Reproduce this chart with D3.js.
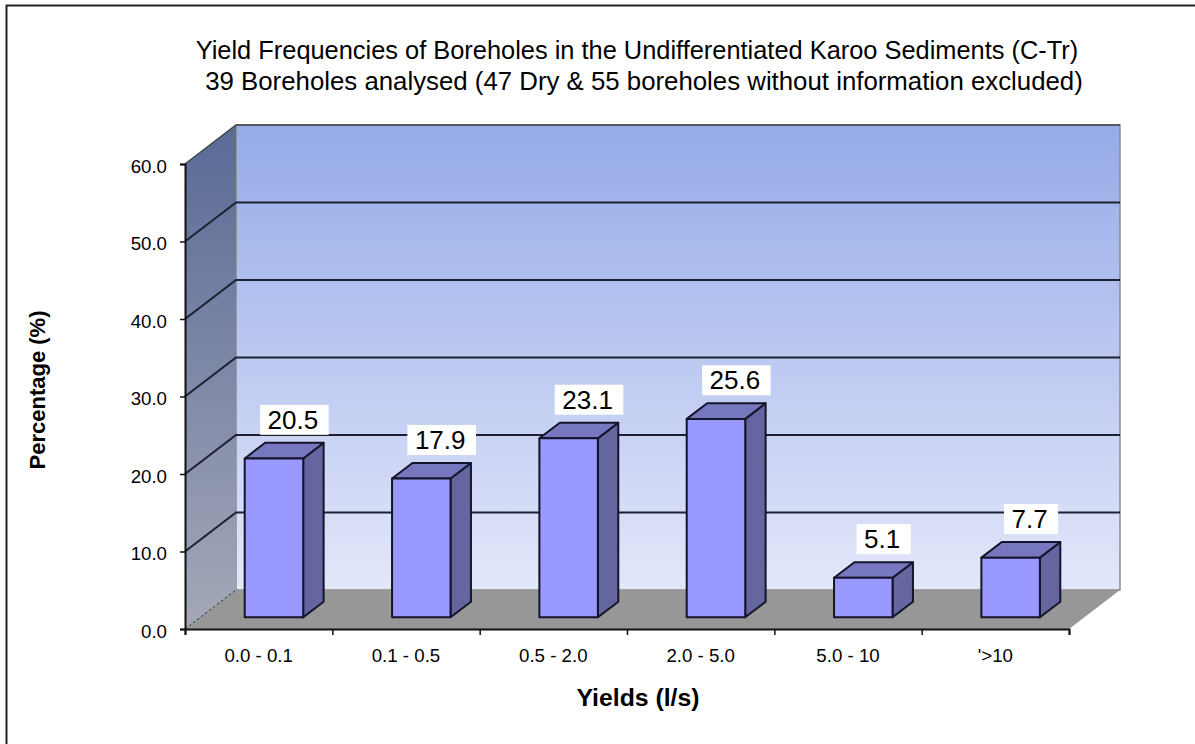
<!DOCTYPE html>
<html>
<head>
<meta charset="utf-8">
<script src="https://cdn.jsdelivr.net/npm/d3@7"></script>
<style>
    html, body { margin: 0; padding: 0; background: #fff; }
    text { font-family: "Liberation Sans", Arial, sans-serif; fill: #000; }
</style>
</head>
<body>
<div id="chart"></div>
<script>
const categories = ["0.0 - 0.1", "0.1 - 0.5", "0.5 - 2.0", "2.0 - 5.0", "5.0 - 10", "'>10"];
const percentages = [20.5, 17.9, 23.1, 25.6, 5.1, 7.7];
const yTicks = [0, 10, 20, 30, 40, 50, 60];
const titleLines = [
    "Yield Frequencies of Boreholes in the Undifferentiated Karoo Sediments (C-Tr)",
    "39 Boreholes analysed (47 Dry & 55 boreholes without information excluded)"
];

const width = 1195;
const height = 744;

const svg = d3.select("#chart")
    .append("svg")
    .attr("width", width)
    .attr("height", height)
    .style("display", "block");

const defs = svg.append("defs");

function addGradient(id, top, bottom) {
    const g = defs.append("linearGradient")
        .attr("id", id)
        .attr("x1", 0).attr("y1", 0)
        .attr("x2", 0).attr("y2", 1);
    g.append("stop").attr("offset", "0%").attr("stop-color", top);
    g.append("stop").attr("offset", "100%").attr("stop-color", bottom);
}
addGradient("wallFill", "#95aae8", "#e3e7fa");
addGradient("sideFill", "#5a6a96", "#a4a8b8");

// front plane of the chart
const x = d3.scaleBand().domain(categories).range([185, 1069]);
const y = d3.scaleLinear().domain([0, 60]).range([629, 164]);

// depth goes 0 (front) to 1 (back wall)
const depthX = d3.scaleLinear().domain([0, 1]).range([0, 51]);
const depthY = d3.scaleLinear().domain([0, 1]).range([0, -39]);

const pt = (px, py, d) => [px + depthX(d), py + depthY(d)];
const line = d3.line();

const x0 = x.range()[0];
const x1 = x.range()[1];
const y0 = y(0);
const yTop = y(60);

// outer frame, only top and left show in the scan
svg.append("path")
    .attr("d", line([[6.5, 744], [6.5, 5.5], [1195, 5.5]]))
    .attr("fill", "none")
    .attr("stroke", "#222")
    .attr("stroke-width", 2);

// walls and floor
svg.append("path")
    .attr("d", line([pt(x0, yTop, 1), pt(x1, yTop, 1), pt(x1, y0, 1), pt(x0, y0, 1)]) + "Z")
    .attr("fill", "url(#wallFill)")
    .attr("stroke", "#8a8a8a")
    .attr("stroke-width", 1.5);

svg.append("path")
    .attr("d", line([pt(x0, yTop, 0), pt(x0, yTop, 1), pt(x0, y0, 1), pt(x0, y0, 0)]) + "Z")
    .attr("fill", "url(#sideFill)");

svg.append("path")
    .attr("d", line([pt(x0, y0, 0), pt(x0, y0, 1), pt(x1, y0, 1), pt(x1, y0, 0)]) + "Z")
    .attr("fill", "#979797");

// gridlines along the side wall and back wall
svg.append("g")
    .selectAll("path")
    .data(yTicks.filter(d => d > 0 && d < 60))
    .join("path")
    .attr("d", d => line([pt(x0, y(d), 0), pt(x0, y(d), 1), pt(x1, y(d), 1)]))
    .attr("fill", "none")
    .attr("stroke", "#1c2030")
    .attr("stroke-width", 2);

// top and bottom edges of the side wall are dashed looking
svg.append("path")
    .attr("d", line([pt(x0, yTop, 0), pt(x0, yTop, 1), pt(x1, yTop, 1)]))
    .attr("fill", "none")
    .attr("stroke", "#444")
    .attr("stroke-width", 1.5);

svg.append("path")
    .attr("d", line([pt(x0, y0, 0), pt(x0, y0, 1)]))
    .attr("fill", "none")
    .attr("stroke", "#333")
    .attr("stroke-width", 1)
    .attr("stroke-dasharray", "3,2");

// bars
const barGap = 58.5;
const barDepth = [0.3, 0.7];

const bars = svg.append("g")
    .selectAll("g")
    .data(categories.map((c, i) => ({ c, v: percentages[i] })))
    .join("g")
    .attr("stroke", "#14142a")
    .attr("stroke-width", 2)
    .attr("stroke-linejoin", "round");

function barEdges(d) {
    const cx = x(d.c) + x.bandwidth() / 2;
    return { l: cx - barGap / 2, r: cx + barGap / 2, t: y(d.v), b: y(0) };
}

// side face
bars.append("path")
    .attr("fill", "#65659f")
    .attr("d", d => {
        const e = barEdges(d);
        return line([pt(e.r, e.b, barDepth[0]), pt(e.r, e.b, barDepth[1]), pt(e.r, e.t, barDepth[1]), pt(e.r, e.t, barDepth[0])]) + "Z";
    });

// top face
bars.append("path")
    .attr("fill", "#7777c0")
    .attr("d", d => {
        const e = barEdges(d);
        return line([pt(e.l, e.t, barDepth[0]), pt(e.r, e.t, barDepth[0]), pt(e.r, e.t, barDepth[1]), pt(e.l, e.t, barDepth[1])]) + "Z";
    });

// front face
bars.append("path")
    .attr("fill", "#9999ff")
    .attr("d", d => {
        const e = barEdges(d);
        return line([pt(e.l, e.b, barDepth[0]), pt(e.r, e.b, barDepth[0]), pt(e.r, e.t, barDepth[0]), pt(e.l, e.t, barDepth[0])]) + "Z";
    });

// value labels on white boxes
const labels = svg.append("g")
    .selectAll("g")
    .data(categories.map((c, i) => ({ c, v: percentages[i] })))
    .join("g")
    .attr("transform", d => {
        const e = barEdges(d);
        const p = pt((e.l + e.r) / 2, e.t, barDepth[1]);
        return `translate(${p[0]},${p[1] - 8})`;
    });

labels.append("text")
    .attr("text-anchor", "middle")
    .attr("x", -1.5)
    .attr("y", -6)
    .style("font-size", "26px")
    .text(d => d.v.toFixed(1));

labels.insert("rect", "text")
    .attr("fill", "#fff")
    .attr("height", 30)
    .attr("y", -30)
    .attr("x", function () {
        const w = this.parentNode.querySelector("text").getComputedTextLength() + 18;
        return -w / 2;
    })
    .attr("width", function () {
        return this.parentNode.querySelector("text").getComputedTextLength() + 18;
    });

// axes
const yAxis = svg.append("g")
    .attr("transform", `translate(${x0},0)`)
    .call(d3.axisLeft(y).tickValues(yTicks).tickFormat(d3.format(".1f")).tickSize(5).tickPadding(13));

const tickScale = d3.scaleLinear().domain([0, categories.length]).range([x0, x1]);
const xAxis = svg.append("g")
    .attr("transform", `translate(0,${y0})`)
    .call(d3.axisBottom(tickScale).tickValues(d3.range(categories.length + 1)).tickFormat("").tickSize(6));

[yAxis, xAxis].forEach(a => {
    a.selectAll("path.domain").attr("stroke", "#111").attr("stroke-width", 2);
    a.selectAll(".tick line").attr("stroke", "#111").attr("stroke-width", 1.5);
});
yAxis.selectAll("text")
    .style("font-size", "18.7px")
    .style("font-family", "Liberation Sans")
    .attr("dy", "0.43em");

svg.append("g")
    .selectAll("text")
    .data(categories)
    .join("text")
    .attr("x", d => x(d) + x.bandwidth() / 2)
    .attr("y", 661.5)
    .attr("text-anchor", "middle")
    .style("font-size", "18.7px")
    .text(d => d);

// titles
svg.append("g")
    .selectAll("text")
    .data(titleLines)
    .join("text")
    .attr("x", (d, i) => i === 0 ? 637 : 644)
    .attr("y", (d, i) => 59 + i * 31)
    .attr("text-anchor", "middle")
    .style("font-size", (d, i) => i === 0 ? "25.4px" : "25.8px")
    .text(d => d);

svg.append("text")
    .attr("x", 638)
    .attr("y", 706)
    .attr("text-anchor", "middle")
    .style("font-size", "24.8px")
    .style("font-weight", "bold")
    .text("Yields (l/s)");

svg.append("text")
    .attr("transform", "translate(45,390) rotate(-90)")
    .attr("text-anchor", "middle")
    .style("font-size", "22px")
    .style("font-weight", "bold")
    .text("Percentage (%)");
</script>
</body>
</html>
